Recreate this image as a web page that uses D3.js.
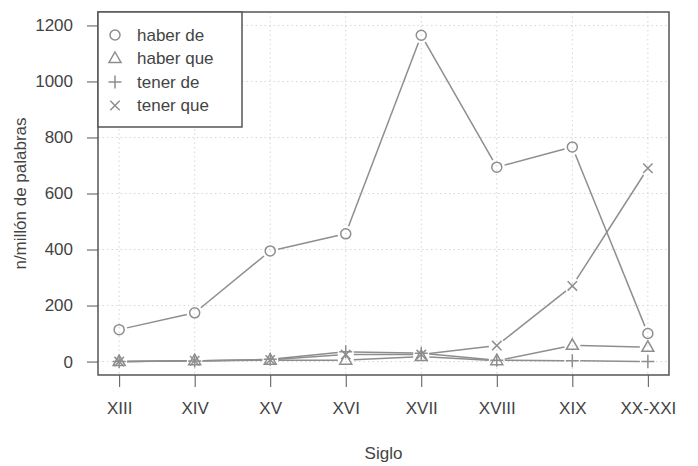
<!DOCTYPE html>
<html><head><meta charset="utf-8">
<script src="https://cdn.jsdelivr.net/npm/d3@7"></script>
<style>body{margin:0;background:#fff}svg{display:block}text{font-family:"Liberation Sans",Arial,sans-serif;fill:#444}</style>
</head><body><svg id="c" width="698" height="466"></svg>
<script>
const categories = ["XIII","XIV","XV","XVI","XVII","XVIII","XIX","XX-XXI"];
const haberDe  = [114,174,395,456,1165,694,766,100];
const haberQue = [0,3,5,5,18,3,58,51];
const tenerDe  = [0,2,8,35,30,5,3,0];
const tenerQue = [0,3,6,25,25,57,270,690];
const yTicks = [0,200,400,600,800,1000,1200];
const seriesNames = ["haber de","haber que","tener de","tener que"];
const seriesShapes = ["circle","triangle","plus","cross"];

const svg = d3.select("#c");
const L=98,R=669,T=12,B=375;
const x = d3.scaleLinear().domain([-0.28,categories.length-1+0.28]).range([L,R]);
const y = d3.scaleLinear().domain([-48,1248]).range([B,T]);
const lineCol="#8e8e8e", axCol="#555";

// grid
const g = svg.append("g");
g.selectAll("line.gx").data(categories).enter().append("line")
 .attr("x1",(d,i)=>x(i)).attr("x2",(d,i)=>x(i)).attr("y1",T).attr("y2",B)
 .attr("stroke","#d6d6d6").attr("stroke-dasharray","1.5,3");
g.selectAll("line.gy").data(yTicks).enter().append("line")
 .attr("x1",L).attr("x2",R).attr("y1",d=>y(d)).attr("y2",d=>y(d))
 .attr("stroke","#d6d6d6").attr("stroke-dasharray","1.5,3");

// axes
const xAxis = d3.axisBottom(x).tickValues(d3.range(categories.length)).tickFormat(i=>categories[i]).tickSize(12).tickPadding(15);
const ax = svg.append("g").attr("transform",`translate(0,${B})`).call(xAxis);
ax.select(".domain").remove();
ax.selectAll("line").attr("stroke",axCol);
ax.selectAll("text").attr("font-size",17).style("fill","#444").attr("font-family","Liberation Sans, Arial, sans-serif");
const yAxis = d3.axisLeft(y).tickValues(yTicks).tickFormat(d3.format("d")).tickSize(11).tickPadding(14);
const ay = svg.append("g").attr("transform",`translate(${L},0)`).call(yAxis);
ay.select(".domain").remove();
ay.selectAll("line").attr("stroke",axCol);
ay.selectAll("text").attr("font-size",17).style("fill","#444").attr("font-family","Liberation Sans, Arial, sans-serif");

// symbols
function drawSym(sel, shape, cx, cy){
  if(shape==="circle") sel.append("circle").attr("cx",cx).attr("cy",cy).attr("r",5);
  else if(shape==="triangle") sel.append("path").attr("d",`M${cx},${cy-6.5}L${cx+6},${cy+4}L${cx-6},${cy+4}Z`);
  else if(shape==="plus") sel.append("path").attr("d",`M${cx-6.5},${cy}H${cx+6.5}M${cx},${cy-6.5}V${cy+6.5}`);
  else sel.append("path").attr("d",`M${cx-4.7},${cy-4.7}L${cx+4.7},${cy+4.7}M${cx-4.7},${cy+4.7}L${cx+4.7},${cy-4.7}`);
}
const allSeries=[haberDe,haberQue,tenerDe,tenerQue];
const gap=8;
allSeries.forEach((vals,si)=>{
  const sg = svg.append("g").attr("fill","none").attr("stroke",lineCol).attr("stroke-width",1.5);
  for(let i=0;i<vals.length-1;i++){
    const x1=x(i),y1=y(vals[i]),x2=x(i+1),y2=y(vals[i+1]);
    const len=Math.hypot(x2-x1,y2-y1); if(len<=2*gap) continue;
    const ux=(x2-x1)/len, uy=(y2-y1)/len;
    sg.append("line").attr("x1",x1+ux*gap).attr("y1",y1+uy*gap).attr("x2",x2-ux*gap).attr("y2",y2-uy*gap);
  }
  vals.forEach((v,i)=>drawSym(sg,seriesShapes[si],x(i),y(v)));
});

// box
svg.append("rect").attr("x",L).attr("y",T).attr("width",R-L).attr("height",B-T).attr("fill","none").attr("stroke",axCol).attr("stroke-width",1.5);

// legend
const lg = svg.append("g");
lg.append("rect").attr("x",L).attr("y",T).attr("width",144).attr("height",115).attr("fill","#fff").attr("stroke",axCol).attr("stroke-width",1.5);
seriesNames.forEach((n,i)=>{
  const cy=35+i*23.5;
  const sg=lg.append("g").attr("fill","none").attr("stroke",lineCol).attr("stroke-width",1.5);
  drawSym(sg,seriesShapes[i],115,cy);
  lg.append("text").attr("x",137).attr("y",cy).attr("dy","0.35em").attr("font-size",17).text(n);
});

// titles
svg.append("text").attr("x",(L+R)/2).attr("y",453).attr("dy","0.35em").attr("text-anchor","middle").attr("font-size",17).text("Siglo");
svg.append("text").attr("transform",`translate(20,${(T+B)/2}) rotate(-90)`).attr("dy","0.35em").attr("text-anchor","middle").attr("font-size",17).text("n/millón de palabras");
</script></body></html>
